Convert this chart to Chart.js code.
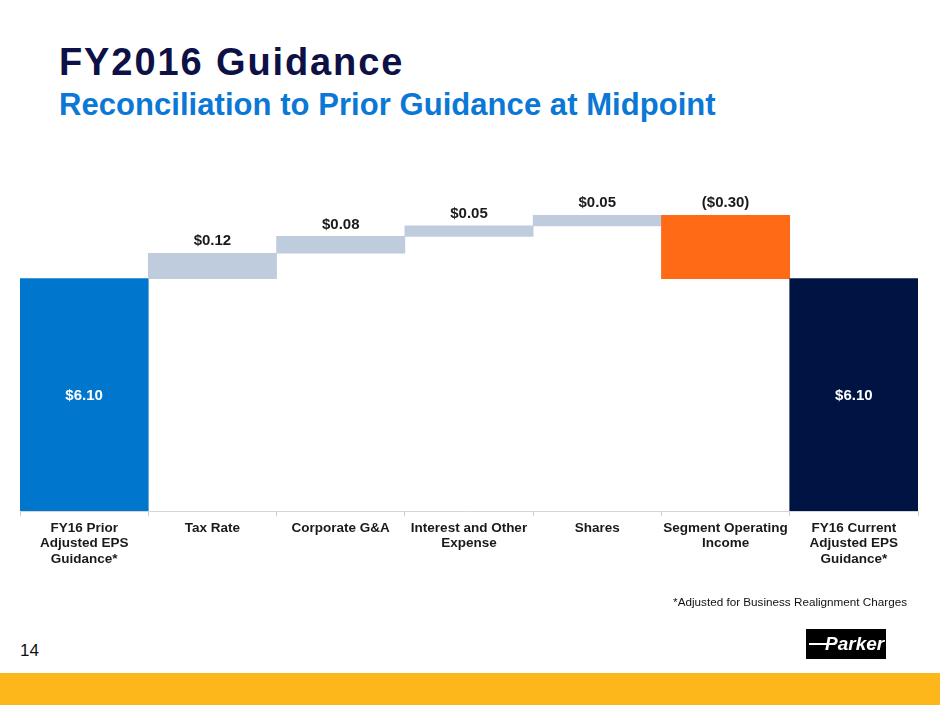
<!DOCTYPE html>
<html lang="en">
<head>
  <meta charset="UTF-8">
  <title>FY2016 Guidance</title>
  <script src="https://cdn.jsdelivr.net/npm/chart.js"></script>
  <style>
    body { margin: 0; width: 940px; height: 705px; position: relative; overflow: hidden; background: #fff; font-family: "Liberation Sans", Arial, sans-serif; }
    h1 { position: absolute; left: 59px; top: 43px; margin: 0; font-size: 38px; line-height: 1; font-weight: bold; color: #0d1146; letter-spacing: 1.9px; }
    h2 { position: absolute; left: 59px; top: 89px; margin: 0; font-size: 31px; line-height: 1; font-weight: bold; color: #0a78d4; letter-spacing: 0.05px; }
    #wrap { position: absolute; left: 0; top: 150px; width: 940px; height: 450px; }
    .note { position: absolute; right: 33px; top: 595px; font-size: 11.7px; color: #111; }
    .page { position: absolute; left: 20px; top: 641px; font-size: 17px; color: #111; }
    .logo { position: absolute; left: 806px; top: 629px; width: 80px; height: 30px; background: #000; }
    .logo span { position: absolute; left: 19px; top: 4px; color: #fff; font: italic bold 19px "Liberation Sans Narrow", "Liberation Sans", Arial, sans-serif; }
    .logo i { position: absolute; left: 3px; top: 14px; width: 22px; height: 2px; background: #fff; }
    .band { position: absolute; left: 0; top: 673px; width: 940px; height: 32px; background: #fdb71b; }
  </style>
</head>
<body>
  <h1>FY2016 Guidance</h1>
  <h2>Reconciliation to Prior Guidance at Midpoint</h2>
  <div id="wrap"><canvas id="chart"></canvas></div>
  <div class="note">*Adjusted for Business Realignment Charges</div>
  <div class="page">14</div>
  <div class="logo"><i></i><span>Parker</span></div>
  <div class="band"></div>

  <script>
    const categories = [
      ['FY16 Prior', 'Adjusted EPS', 'Guidance*'],
      'Tax Rate',
      'Corporate G&A',
      ['Interest and Other', 'Expense'],
      'Shares',
      ['Segment Operating', 'Income'],
      ['FY16 Current', 'Adjusted EPS', 'Guidance*']
    ];
    const priorEps = 6.10;
    const deltas = [0.12, 0.08, 0.05, 0.05, -0.30];
    const currentEps = 6.10;
    const valueLabels = ['$6.10', '$0.12', '$0.08', '$0.05', '$0.05', '($0.30)', '$6.10'];
    const barColors = ['#0077cc', '#bfccdd', '#bfccdd', '#bfccdd', '#bfccdd', '#ff6a17', '#001443'];

    // waterfall: totals from the axis floor, steps as floating [from, to]
    const bars = [priorEps];
    let run = priorEps;
    deltas.forEach(d => {
      bars.push([run, run + d]);
      run += d;
    });
    bars.push(currentEps);

    const labelPlugin = {
      id: 'valueLabels',
      afterDatasetsDraw(chart) {
        const ctx = chart.ctx;
        const meta = chart.getDatasetMeta(0);
        const bottom = chart.chartArea.bottom;
        ctx.save();
        ctx.font = 'bold 15px "Liberation Sans", Arial, sans-serif';
        ctx.textAlign = 'center';
        ctx.textBaseline = 'middle';
        meta.data.forEach((bar, i) => {
          const total = !Array.isArray(bars[i]);
          if (total) {
            ctx.fillStyle = '#ffffff';
            ctx.fillText(valueLabels[i], bar.x, (bar.y + bottom) / 2 + 1);
          } else {
            ctx.fillStyle = '#1a1a1a';
            ctx.fillText(valueLabels[i], bar.x, Math.min(bar.y, bar.base) - 12);
          }
        });
        ctx.restore();
      }
    };

    new Chart(document.getElementById('chart'), {
      type: 'bar',
      data: {
        labels: categories,
        datasets: [{
          data: bars,
          backgroundColor: barColors,
          borderWidth: 0,
          barPercentage: 1,
          categoryPercentage: 1
        }]
      },
      options: {
        responsive: true,
        maintainAspectRatio: false,
        animation: false,
        layout: { padding: { left: 20, right: 22, top: 23, bottom: 0 } },
        plugins: { legend: { display: false }, tooltip: { enabled: false } },
        scales: {
          y: { display: false, min: 5.0, max: 6.6 },
          x: {
            afterFit(scale) { scale.height = 89; },
            border: { color: '#d6d6d6', width: 1 },
            grid: { drawOnChartArea: false, color: '#cccccc', tickLength: 5, offset: true },
            ticks: {
              padding: 4,
              color: '#1a1a1a',
              maxRotation: 0,
              autoSkip: false,
              font: { family: '"Liberation Sans", Arial, sans-serif', size: 13.5, weight: 'bold', lineHeight: 1.17 }
            }
          }
        }
      },
      plugins: [labelPlugin]
    });
  </script>
</body>
</html>
